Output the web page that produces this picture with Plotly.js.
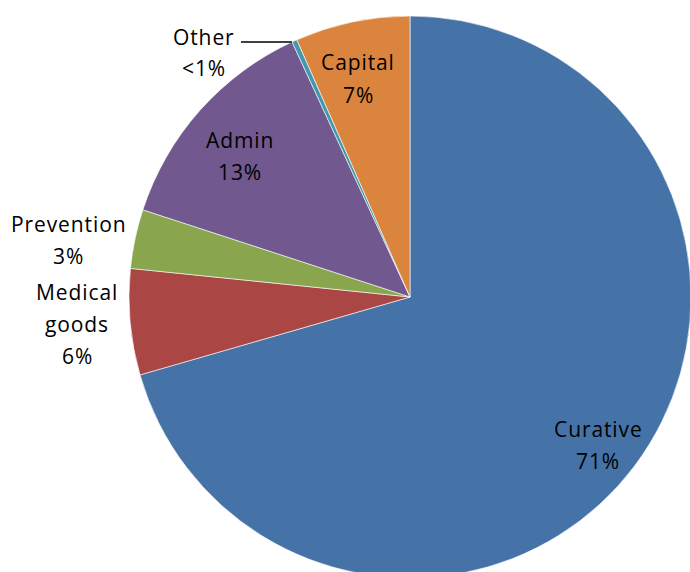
<!DOCTYPE html>
<html><head><meta charset="utf-8">
<script src="https://cdn.plot.ly/plotly-3.0.1.min.js"></script>
<style>html,body{margin:0;padding:0;overflow:hidden;background:#fff}
.annotation-text{letter-spacing:0.9px}</style>
</head><body>
<div id="chart"></div>
<script>
const categories = ["Curative", "Medical goods", "Prevention", "Admin", "Other", "Capital"];
const values = [70.6, 6.1, 3.4, 13.1, 0.3, 6.6];
const valueLabels = ["71%", "6%", "3%", "13%", "<1%", "7%"];
const colors = ["#4572A7", "#AA4643", "#89A54E", "#71588F", "#4198AF", "#DB843D"];

const W = 700, H = 590;
const px = x => x / W, py = y => 1 - y / H;
const font = {family: "'Open Sans', Lato, sans-serif", size: 21, color: "#000"};

// label lines (text, pixel center x, pixel center y)
const labelLines = [
  ["Curative", 598, 429], ["71%", 598, 461],
  ["Medical", 77, 292], ["goods", 77, 324], ["6%", 77, 356],
  ["Prevention", 68, 224], ["3%", 68, 256],
  ["Admin", 240, 140], ["13%", 240, 172],
  ["Other", 204, 37], ["<1%", 204, 68],
  ["Capital", 358, 62], ["7%", 358, 95]
];
const annotations = labelLines.map(([t, x, y]) => ({
  text: t, x: px(x), y: py(y), xref: "paper", yref: "paper",
  showarrow: false, xanchor: "center", yanchor: "middle", font: font
}));

const trace = {
  type: "pie",
  labels: categories,
  values: values,
  sort: false,
  direction: "clockwise",
  rotation: 0,
  textinfo: "none",
  hoverinfo: "label+percent",
  marker: {colors: colors, line: {color: "#ffffff", width: 0.6}},
  domain: {x: [px(129), px(691)], y: [py(578), py(16)]},
  showlegend: false
};

const layout = {
  width: W, height: H,
  margin: {l: 0, r: 0, t: 0, b: 0},
  paper_bgcolor: "#fff",
  annotations: annotations,
  shapes: [{type: "line", xref: "paper", yref: "paper",
    x0: px(241), y0: py(42), x1: px(292), y1: py(42),
    line: {color: "#000", width: 1.5}}]
};

Plotly.newPlot("chart", [trace], layout, {displayModeBar: false, staticPlot: true});
</script>
</body></html>
